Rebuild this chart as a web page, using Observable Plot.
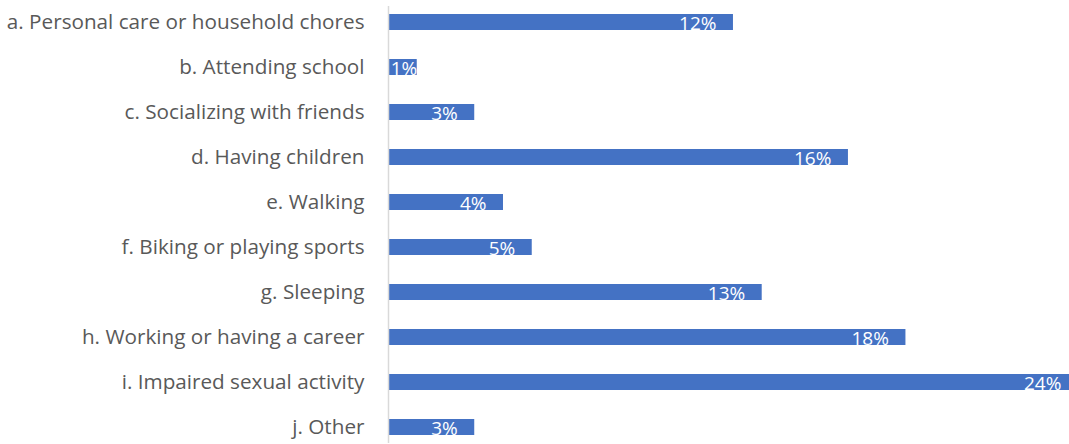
<!DOCTYPE html>
<html>
<head>
<meta charset="utf-8">
<script src="https://cdn.jsdelivr.net/npm/d3@7"></script>
<script src="https://cdn.jsdelivr.net/npm/@observablehq/plot@0.6"></script>
<style>
  html, body { margin: 0; padding: 0; background: #fff; overflow: hidden; }
</style>
</head>
<body>
<div id="chart"></div>
<script>
const categories = [
  "a. Personal care or household chores",
  "b. Attending school",
  "c. Socializing with friends",
  "d. Having children",
  "e. Walking",
  "f. Biking or playing sports",
  "g. Sleeping",
  "h. Working or having a career",
  "i. Impaired sexual activity",
  "j. Other"
];
const values = [12, 1, 3, 16, 4, 5, 13, 18, 24, 3];
const valueLabels = ["12%", "1%", "3%", "16%", "4%", "5%", "13%", "18%", "24%", "3%"];

const data = categories.map((c, i) => ({category: c, value: values[i], label: valueLabels[i]}));

const chart = Plot.plot({
  width: 1069,
  height: 444,
  marginLeft: 388,
  marginRight: 0,
  marginTop: 6,
  marginBottom: 1,
  style: {fontFamily: "'Open Sans', sans-serif", background: "#fff", overflow: "hidden"},
  x: {domain: [0, 23.69], axis: null},
  y: {domain: categories, paddingInner: 0.646, paddingOuter: 0.15, label: null, tickSize: 0, tickPadding: 24},
  marks: [
    Plot.barX(data, {x: "value", y: "category", fill: "#4472C4", clip: true}),
    Plot.ruleX([0], {stroke: "#D9D9D9", strokeWidth: 1.5}),
    Plot.text(data.filter(d => d.value >= 2), {
      x: "value", y: "category", text: "label", textAnchor: "end", dx: -17, dy: 1.5,
      fill: "#fff", fontSize: 19, clip: true
    }),
    Plot.text(data.filter(d => d.value < 2), {
      x: "value", y: "category", text: "label", textAnchor: "end", dx: 0, dy: 1.5,
      fill: "#fff", fontSize: 19
    }),
    Plot.axisY({tickSize: 0, tickPadding: 24, fontSize: 20.7, fill: "#595959", label: null, textAnchor: "end"})
  ]
});
document.getElementById("chart").appendChild(chart);
</script>
</body>
</html>
